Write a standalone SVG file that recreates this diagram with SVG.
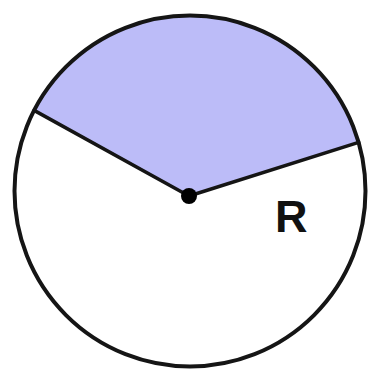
<svg xmlns="http://www.w3.org/2000/svg" width="374" height="371" viewBox="0 0 374 371">
<style>
.ln{fill:none;stroke:#151515;stroke-linecap:round;stroke-linejoin:round}
.lbl{font-family:"Liberation Sans",Arial,sans-serif;font-size:45px;font-weight:bold;fill:#111}
</style>
<rect width="374" height="371" fill="#ffffff"/>
<g id="sector">
<path d="M189 196 L34.1 110.4 A175.5 175.5 0 0 1 358.6 142.4 Z" fill="#bcbcf8"/>
</g>
<g id="circle">
<circle cx="190" cy="191" r="175.5" class="ln" stroke-width="4"/>
</g>
<g id="connectors">
<path d="M34.1 110.4 L189 196 L358.6 142.4" class="ln" stroke-width="3.5"/>
</g>
<g id="center">
<circle cx="189" cy="196" r="8" fill="#000"/>
</g>
<g id="label">
<text x="275" y="232" class="lbl">R</text>
</g>
</svg>
